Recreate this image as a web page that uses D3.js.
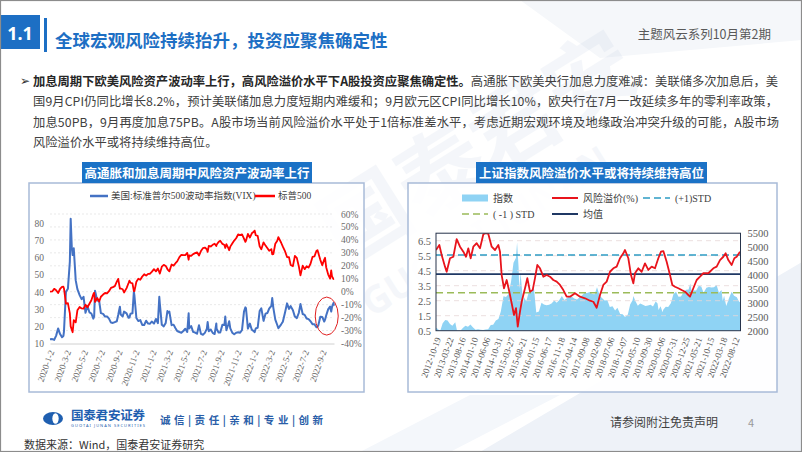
<!DOCTYPE html>
<html>
<head>
<meta charset="utf-8">
<script src="https://cdn.jsdelivr.net/npm/d3@7"></script>
<style>
  body { margin: 0; background: #fff; }
  svg { display: block; font-family: "Noto Sans CJK SC", "Noto Sans", sans-serif; }
</style>
</head>
<body>
<svg id="slide" width="802" height="452"></svg>
<script>
// ---- left chart: VIX vs S&P 500 (change since 2020-01-02, %) ----
const usDates = [
  '2020-01-02','2020-01-10','2020-01-17','2020-01-24','2020-01-31','2020-02-07','2020-02-14','2020-02-19','2020-02-21','2020-02-28',
  '2020-03-06','2020-03-13','2020-03-16','2020-03-20','2020-03-23','2020-03-27','2020-04-03','2020-04-09','2020-04-17','2020-04-24',
  '2020-05-01','2020-05-08','2020-05-15','2020-05-22','2020-05-29','2020-06-05','2020-06-08','2020-06-11','2020-06-19','2020-06-26',
  '2020-07-02','2020-07-10','2020-07-17','2020-07-24','2020-07-31','2020-08-07','2020-08-14','2020-08-21','2020-08-28','2020-09-02',
  '2020-09-08','2020-09-11','2020-09-18','2020-09-23','2020-10-02','2020-10-09','2020-10-12','2020-10-16','2020-10-23','2020-10-28',
  '2020-10-30','2020-11-06','2020-11-13','2020-11-20','2020-11-27','2020-12-04','2020-12-11','2020-12-18','2020-12-24','2020-12-31',
  '2021-01-08','2021-01-15','2021-01-22','2021-01-27','2021-01-29','2021-02-05','2021-02-12','2021-02-19','2021-02-25','2021-02-26',
  '2021-03-04','2021-03-12','2021-03-19','2021-03-26','2021-04-01','2021-04-09','2021-04-16','2021-04-23','2021-04-30','2021-05-07',
  '2021-05-12','2021-05-14','2021-05-21','2021-05-28','2021-06-04','2021-06-11','2021-06-18','2021-06-25','2021-07-02','2021-07-09',
  '2021-07-16','2021-07-19','2021-07-23','2021-07-30','2021-08-06','2021-08-13','2021-08-19','2021-08-20','2021-08-27','2021-09-02',
  '2021-09-10','2021-09-17','2021-09-20','2021-09-24','2021-10-01','2021-10-04','2021-10-08','2021-10-15','2021-10-22','2021-10-29',
  '2021-11-05','2021-11-12','2021-11-19','2021-11-26','2021-12-01','2021-12-03','2021-12-10','2021-12-17','2021-12-24','2021-12-31',
  '2022-01-03','2022-01-07','2022-01-14','2022-01-21','2022-01-27','2022-02-04','2022-02-11','2022-02-18','2022-02-24','2022-03-04',
  '2022-03-07','2022-03-11','2022-03-18','2022-03-25','2022-03-29','2022-04-08','2022-04-14','2022-04-22','2022-04-29','2022-05-06',
  '2022-05-12','2022-05-20','2022-05-27','2022-06-03','2022-06-10','2022-06-16','2022-06-24','2022-07-01','2022-07-08','2022-07-15',
  '2022-07-22','2022-07-29','2022-08-05','2022-08-12','2022-08-16','2022-08-19','2022-08-26','2022-09-02','2022-09-09','2022-09-12',
  '2022-09-16','2022-09-23','2022-09-30','2022-10-04','2022-10-07','2022-10-12','2022-10-14'
];
const vixValues = [
  12.5, 12.6, 12.1, 14.6, 18.8, 15.5, 13.7, 14.4, 17.1, 40.1,
  41.9, 57.8, 82.7, 66.0, 61.6, 65.5, 46.8, 41.7, 38.2, 35.9,
  37.2, 27.9, 31.9, 28.2, 27.5, 24.5, 25.8, 40.8, 35.1, 34.7,
  27.7, 27.3, 25.7, 25.8, 24.5, 22.2, 22.0, 22.5, 23.0, 26.6,
  31.5, 26.9, 25.8, 28.6, 27.6, 25.0, 25.1, 27.4, 27.6, 40.3,
  38.0, 24.9, 23.1, 23.7, 20.8, 20.8, 23.3, 21.6, 21.5, 22.8,
  21.6, 24.3, 21.9, 37.2, 33.1, 20.9, 20.0, 22.0, 28.9, 27.9,
  28.6, 20.7, 21.0, 18.9, 17.3, 16.7, 16.3, 17.3, 18.6, 16.7,
  27.6, 18.8, 20.2, 16.8, 16.4, 15.7, 20.7, 15.6, 15.1, 16.2,
  18.5, 22.5, 17.2, 18.2, 16.2, 15.5, 21.7, 18.6, 16.4, 16.4,
  21.0, 20.8, 25.7, 17.8, 21.2, 23.0, 18.8, 16.3, 15.4, 16.3,
  16.5, 16.3, 17.9, 28.6, 31.1, 30.7, 18.7, 21.6, 18.0, 17.2,
  16.6, 18.8, 19.2, 28.9, 30.5, 23.2, 27.4, 27.8, 30.3, 32.0,
  36.5, 30.8, 23.9, 20.8, 18.9, 21.2, 22.7, 28.2, 33.4, 30.2,
  31.8, 29.4, 25.7, 24.8, 27.8, 33.0, 27.2, 26.7, 24.6, 24.2,
  23.0, 21.3, 21.2, 19.5, 19.7, 20.6, 25.6, 25.5, 22.8, 23.9,
  26.3, 29.9, 31.6, 28.6, 31.4, 33.6, 32.0
];
const spxPct = [
  0.0, 0.2, 2.2, 1.1, -1.0, 2.1, 3.7, 3.9, 2.5, -9.3,
  -8.8, -16.8, -26.8, -29.3, -31.3, -22.0, -23.6, -14.4, -11.8, -12.9,
  -13.1, -10.1, -12.1, -9.3, -6.6, -2.0, -0.8, -7.9, -4.9, -7.6,
  -3.9, -2.2, -1.0, -1.3, 0.4, 2.9, 3.5, 4.3, 7.7, 9.9,
  2.3, 2.5, 1.9, -0.6, 2.8, 6.7, 8.5, 6.9, 6.4, 0.4,
  0.4, 7.7, 10.0, 9.2, 11.7, 13.5, 12.4, 13.8, 13.7, 15.3,
  17.4, 15.7, 17.9, 15.1, 14.0, 19.3, 20.7, 19.9, 17.5, 17.0,
  15.7, 21.0, 20.1, 22.0, 23.4, 26.7, 28.5, 28.3, 28.3, 29.9,
  24.7, 28.1, 27.6, 29.0, 29.8, 30.4, 27.9, 31.4, 33.6, 34.1,
  32.8, 30.7, 35.4, 34.9, 36.2, 37.1, 35.2, 36.3, 38.4, 39.3,
  36.9, 36.1, 33.8, 36.7, 33.7, 32.0, 34.8, 37.2, 39.5, 41.3,
  44.2, 43.7, 44.2, 41.0, 38.5, 39.3, 44.6, 41.8, 45.1, 46.3,
  47.2, 43.6, 43.1, 35.0, 32.8, 38.1, 35.6, 33.5, 31.6, 32.9,
  28.9, 29.0, 37.0, 39.4, 42.2, 37.8, 34.8, 31.1, 26.8, 26.6,
  20.6, 19.7, 27.6, 26.1, 19.7, 12.6, 20.1, 17.4, 19.7, 18.6,
  21.6, 26.8, 27.2, 31.4, 32.1, 29.8, 24.6, 20.4, 24.8, 26.2,
  18.9, 13.4, 10.1, 16.4, 11.7, 9.8, 10.0
];
const usTickLabels = ['2020-1-2','2020-3-2','2020-5-2','2020-7-2','2020-9-2','2020-11-2',
  '2021-1-2','2021-3-2','2021-5-2','2021-7-2','2021-9-2','2021-11-2',
  '2022-1-2','2022-3-2','2022-5-2','2022-7-2','2022-9-2'];
const vixTicks = [10, 20, 30, 40, 50, 60, 70, 80];
const spxTicks = [-40, -30, -20, -10, 0, 10, 20, 30, 40, 50, 60];

// ---- right chart: 上证指数 & 风险溢价 ----
const shDates = [
  '2012-10-12','2012-10-31','2012-11-30','2012-12-31','2013-01-31','2013-02-28','2013-03-29','2013-04-26','2013-05-31','2013-06-25',
  '2013-07-31','2013-08-30','2013-09-30','2013-10-31','2013-11-29','2013-12-31','2014-01-30','2014-02-28','2014-03-31','2014-04-30',
  '2014-05-30','2014-06-30','2014-07-31','2014-08-29','2014-09-30','2014-10-31','2014-11-28','2014-12-31','2015-01-30','2015-02-27',
  '2015-03-31','2015-04-30','2015-05-29','2015-06-12','2015-06-30','2015-07-08','2015-07-24','2015-08-26','2015-08-31','2015-09-30',
  '2015-10-30','2015-11-30','2015-12-31','2016-01-28','2016-02-29','2016-03-31','2016-04-29','2016-05-31','2016-06-30','2016-07-29',
  '2016-08-31','2016-09-30','2016-10-31','2016-11-30','2016-12-30','2017-01-26','2017-02-28','2017-03-31','2017-04-28','2017-05-31',
  '2017-06-30','2017-07-31','2017-08-31','2017-09-29','2017-10-31','2017-11-30','2017-12-29','2018-01-26','2018-02-28','2018-03-30',
  '2018-04-27','2018-05-31','2018-06-29','2018-07-31','2018-08-31','2018-09-28','2018-10-31','2018-11-30','2018-12-28','2019-01-31',
  '2019-02-28','2019-03-29','2019-04-08','2019-04-30','2019-05-31','2019-06-28','2019-07-31','2019-08-30','2019-09-30','2019-10-31',
  '2019-11-29','2019-12-31','2020-01-23','2020-02-03','2020-02-28','2020-03-23','2020-03-31','2020-04-30','2020-05-29','2020-06-30',
  '2020-07-31','2020-08-31','2020-09-30','2020-10-30','2020-11-30','2020-12-31','2021-01-29','2021-02-18','2021-03-09','2021-03-31',
  '2021-04-30','2021-05-31','2021-06-30','2021-07-28','2021-08-31','2021-09-30','2021-10-29','2021-11-30','2021-12-31','2022-01-28',
  '2022-02-28','2022-03-15','2022-03-31','2022-04-26','2022-05-31','2022-06-30','2022-07-29','2022-08-31','2022-09-30','2022-10-14'
];
const shIndex = [
  2105, 2069, 1980, 2269, 2385, 2366, 2237, 2178, 2301, 1950,
  1994, 2098, 2175, 2141, 2220, 2116, 2033, 2056, 2033, 2026,
  2039, 2048, 2201, 2217, 2364, 2420, 2683, 3235, 3210, 3310,
  3748, 4441, 4612, 5166, 4277, 3507, 4070, 2927, 3206, 3053,
  3383, 3445, 3539, 2656, 2688, 3004, 2938, 2917, 2930, 2979,
  3085, 3005, 3100, 3250, 3104, 3159, 3242, 3223, 3155, 3117,
  3192, 3273, 3361, 3349, 3393, 3317, 3307, 3558, 3259, 3169,
  3082, 3095, 2847, 2876, 2725, 2821, 2603, 2588, 2494, 2585,
  2941, 3091, 3247, 3078, 2899, 2979, 2933, 2886, 2905, 2929,
  2872, 3050, 2977, 2746, 2880, 2660, 2750, 2860, 2852, 2985,
  3310, 3396, 3218, 3225, 3392, 3473, 3483, 3696, 3360, 3442,
  3447, 3615, 3591, 3362, 3544, 3568, 3547, 3564, 3640, 3361,
  3462, 3064, 3252, 2887, 3186, 3399, 3253, 3202, 3024, 3071
];
const rpDates = [
  '2012-10-12','2012-11-21','2012-12-19','2013-01-28','2013-02-17','2013-03-29','2013-05-08','2013-06-17','2013-07-27','2013-09-05',
  '2013-10-07','2013-11-04','2013-12-02','2014-01-03','2014-02-12','2014-03-24','2014-05-03','2014-06-02','2014-07-02','2014-08-11',
  '2014-09-20','2014-10-30','2014-11-19','2014-12-09','2015-01-06','2015-02-07','2015-03-11','2015-04-08','2015-05-06','2015-05-30',
  '2015-06-20','2015-07-17','2015-08-06','2015-09-15','2015-10-13','2015-11-14','2015-12-16','2016-01-13','2016-02-10','2016-03-13',
  '2016-04-22','2016-06-01','2016-07-11','2016-08-20','2016-09-29','2016-11-08','2016-12-18','2017-01-27','2017-03-08','2017-05-07',
  '2017-07-06','2017-09-04','2017-11-03','2017-12-13','2018-01-22','2018-03-03','2018-04-12','2018-05-22','2018-07-01','2018-08-10',
  '2018-09-19','2018-10-29','2018-12-08','2018-12-28','2019-02-06','2019-03-10','2019-04-07','2019-04-27','2019-06-06','2019-07-16',
  '2019-08-25','2019-10-04','2019-11-13','2019-12-23','2020-02-01','2020-03-04','2020-04-01','2020-05-11','2020-06-20','2020-07-18',
  '2020-08-19','2020-09-28','2020-11-07','2020-12-17','2021-01-26','2021-02-15','2021-03-27','2021-05-06','2021-06-15','2021-07-25',
  '2021-09-23','2021-11-22','2022-01-01','2022-02-10','2022-03-22','2022-04-19','2022-05-21','2022-06-30','2022-08-01','2022-08-29',
  '2022-10-08'
];
const rpValues = [
  5.88, 6.21, 5.55, 4.77, 4.43, 5.33, 5.43, 6.61, 6.10, 5.77,
  5.43, 5.99, 5.33, 6.10, 6.33, 5.99, 6.93, 7.00, 6.95, 6.10,
  5.88, 6.21, 5.77, 4.21, 3.33, 3.88, 3.10, 2.33, 1.55, 2.00,
  0.77, 1.77, 2.43, 3.33, 4.00, 3.10, 3.21, 4.00, 4.88, 4.66,
  4.10, 4.21, 4.10, 3.88, 3.77, 3.55, 3.21, 2.77, 2.77, 3.00,
  2.77, 2.66, 2.50, 2.43, 2.03, 2.88, 3.55, 3.77, 4.43, 4.66,
  4.77, 5.33, 5.66, 5.88, 5.33, 4.21, 3.66, 4.33, 4.66, 4.43,
  4.99, 4.55, 4.77, 4.66, 5.33, 5.77, 5.81, 5.10, 4.21, 3.55,
  3.43, 3.33, 3.21, 3.10, 2.88, 2.77, 3.33, 3.88, 4.10, 4.33,
  4.33, 4.66, 4.77, 5.21, 5.43, 5.66, 5.21, 4.88, 5.33, 5.43,
  5.77
];
const rpMean = 4.27;
const rpPlusStd = 5.55;
const rpMinusStd = 3.03;
const cnTickLabels = ['2012-10-19','2013-03-22','2013-08-16','2014-01-10','2014-06-06','2014-10-31','2015-03-27',
  '2015-08-21','2016-01-15','2016-06-17','2016-11-18','2017-04-14','2017-09-08','2018-02-09','2018-07-06',
  '2018-12-07','2019-05-10','2019-09-30','2020-03-06','2020-07-31','2020-12-25','2021-05-21','2021-10-15',
  '2022-03-18','2022-08-12'];
const rpTicks = [0.5, 1.5, 2.5, 3.5, 4.5, 5.5, 6.5];
const idxTicks = [2000, 2500, 3000, 3500, 4000, 4500, 5000, 5500];

const parse = d3.timeParse('%Y-%m-%d');
const svg = d3.select('#slide');
const blue = '#1d6fc4';
const serif = '"Liberation Serif", "Noto Sans CJK SC", serif';

// ---------- page background ----------
svg.append('rect').attr('width', 802).attr('height', 452).attr('fill', '#ffffff');
svg.append('path').attr('d', 'M480,452 L802,262 L802,452 Z').attr('fill', '#eef2f8');
svg.append('path').attr('d', 'M360,452 L470,395 L560,395 L450,452 Z').attr('fill', '#f4f7fb');
svg.append('path').attr('d', 'M520,0 L802,0 L802,40 L600,58 Z').attr('fill', '#f5f7fa');

// faint watermark
const wm = svg.append('g').attr('opacity', 0.07).attr('fill', '#6f8fbf');
wm.append('text').attr('transform', 'translate(345,268) rotate(-32)')
  .attr('font-size', 88).attr('font-weight', 'bold').text('国泰君安');
wm.append('text').attr('transform', 'translate(372,318) rotate(-32)')
  .attr('font-size', 38).attr('font-family', 'Noto Sans').attr('font-weight', 'bold').text('GUOTAI JUNAN');

// ---------- header ----------
svg.append('rect').attr('x', 0).attr('y', 15).attr('width', 40).attr('height', 34).attr('fill', blue);
svg.append('text').attr('x', 20).attr('y', 32.5).attr('text-anchor', 'middle').attr('dominant-baseline', 'central')
  .attr('fill', '#fff').attr('font-size', 18).attr('font-weight', 'bold').attr('font-family', 'Noto Sans').text('1.1');
svg.append('rect').attr('x', 44).attr('y', 18).attr('width', 3).attr('height', 34).attr('fill', blue);
svg.append('text').attr('x', 55).attr('y', 39).attr('dominant-baseline', 'central')
  .attr('fill', blue).attr('font-size', 17.5).attr('font-weight', 'bold').text('全球宏观风险持续抬升，投资应聚焦确定性');
svg.append('text').attr('x', 771).attr('y', 33).attr('text-anchor', 'end').attr('dominant-baseline', 'central')
  .attr('fill', '#595959').attr('font-size', 12.5).text('主题风云系列10月第2期');

// ---------- paragraph ----------
svg.append('text').attr('x', 20).attr('y', 80.5).attr('dominant-baseline', 'central')
  .attr('font-family', 'DejaVu Sans').attr('font-size', 12).attr('fill', '#333').text('➢');
const paraLines = [
  { bold: '加息周期下欧美风险资产波动率上行，高风险溢价水平下A股投资应聚焦确定性。', text: '高通胀下欧美央行加息力度难减：美联储多次加息后，美', fit: 745 },
  { bold: '', text: '国9月CPI仍同比增长8.2%，预计美联储加息力度短期内难缓和；9月欧元区CPI同比增长10%，欧央行在7月一改延续多年的零利率政策，', fit: 745 },
  { bold: '', text: '加息50PB，9月再度加息75PB。A股市场当前风险溢价水平处于1倍标准差水平，考虑近期宏观环境及地缘政治冲突升级的可能，A股市场', fit: 746 },
  { bold: '', text: '风险溢价水平或将持续维持高位。', fit: null }
];
paraLines.forEach((ln, i) => {
  const t = svg.append('text').attr('x', 33).attr('y', 80.5 + i * 20.5).attr('dominant-baseline', 'central')
    .attr('font-size', 12.3).attr('fill', '#404040');
  if (ln.fit) t.attr('textLength', ln.fit).attr('lengthAdjust', 'spacing');
  if (ln.bold) t.append('tspan').attr('font-weight', 'bold').attr('fill', '#262626').text(ln.bold);
  t.append('tspan').text(ln.text);
});

// ---------- chart frames & titles ----------
function frame(x, y, w, h) {
  svg.append('rect').attr('x', x).attr('y', y).attr('width', w).attr('height', h)
    .attr('fill', 'rgba(255,255,255,0.9)').attr('stroke', '#a8bbd8').attr('stroke-width', 1.5);
}
function titleBox(x, w, label) {
  svg.append('rect').attr('x', x).attr('y', 162).attr('width', w).attr('height', 21).attr('fill', '#1b72c6');
  svg.append('text').attr('x', x + w / 2).attr('y', 172.5).attr('text-anchor', 'middle').attr('dominant-baseline', 'central')
    .attr('fill', '#fff').attr('font-size', 12.5).attr('font-weight', 'bold').text(label);
}
frame(29, 183, 335, 209);
frame(408, 183, 369, 209);
titleBox(82, 230, '高通胀和加息周期中风险资产波动率上行');
titleBox(476, 231, '上证指数风险溢价水平或将持续维持高位');

// ---------- left chart ----------
const usRows = usDates.map((d, i) => ({ date: parse(d), vix: vixValues[i], spx: spxPct[i] }));
const xUS = d3.scaleTime().domain([parse('2020-01-02'), parse('2022-10-14')]).range([50, 334]);
const yVix = d3.scaleLinear().domain([10, 80]).range([343.5, 223.5]);
const ySpx = d3.scaleLinear().domain([-40, 60]).range([343.5, 214]);

const lc = svg.append('g');
lc.append('g').selectAll('line').data(spxTicks.slice(1)).join('line')
  .attr('x1', 50).attr('x2', 334).attr('y1', d => ySpx(d)).attr('y2', d => ySpx(d))
  .attr('stroke', '#e3e3e3').attr('stroke-width', 0.8).attr('stroke-dasharray', '2,2');

lc.append('g').attr('transform', 'translate(50,0)')
  .call(d3.axisLeft(yVix).tickValues(vixTicks).tickSize(0).tickPadding(6))
  .call(g => g.select('.domain').remove())
  .call(g => g.selectAll('text').attr('fill', '#6b6b6b').attr('font-size', 9.5).attr('font-family', serif));
lc.append('g').attr('transform', 'translate(334,0)')
  .call(d3.axisRight(ySpx).tickValues(spxTicks).tickFormat(d => d + '%').tickSize(0).tickPadding(7))
  .call(g => g.select('.domain').remove())
  .call(g => g.selectAll('text').attr('fill', '#6b6b6b').attr('font-size', 9.5).attr('font-family', serif));
lc.append('g').attr('transform', 'translate(0,343.5)')
  .call(d3.axisBottom(xUS).tickValues(usTickLabels.map(parse)).tickFormat((d, i) => usTickLabels[i]).tickSize(0).tickSizeOuter(0))
  .call(g => g.select('.domain').attr('stroke', '#d0d0d0'))
  .call(g => g.selectAll('text').attr('x', 0).attr('y', 0).attr('dy', '0.35em')
    .attr('transform', 'translate(1,7) rotate(-70)').attr('text-anchor', 'end')
    .attr('fill', '#6b6b6b').attr('font-size', 9).attr('font-family', serif));

lc.append('path').datum(usRows)
  .attr('d', d3.line().x(d => xUS(d.date)).y(d => yVix(d.vix)))
  .attr('fill', 'none').attr('stroke', '#4472c4').attr('stroke-width', 2).attr('stroke-linejoin', 'round');
lc.append('path').datum(usRows)
  .attr('d', d3.line().x(d => xUS(d.date)).y(d => ySpx(d.spx)))
  .attr('fill', 'none').attr('stroke', '#ff0000').attr('stroke-width', 1.8).attr('stroke-linejoin', 'round');

// highlight circle around the latest VIX rebound
lc.append('ellipse').attr('cx', xUS(parse('2022-09-18'))).attr('cy', yVix(26)).attr('rx', 11.5).attr('ry', 19)
  .attr('fill', 'none').attr('stroke', '#e02020').attr('stroke-width', 1);

// legend
const lg = lc.append('g');
lg.append('line').attr('x1', 90).attr('x2', 108).attr('y1', 196).attr('y2', 196).attr('stroke', '#4472c4').attr('stroke-width', 2.5);
lg.append('text').attr('x', 111).attr('y', 196).attr('dominant-baseline', 'central').attr('font-size', 9.5)
  .attr('font-family', serif).attr('fill', '#404040').text('美国:标准普尔500波动率指数(VIX)');
lg.append('line').attr('x1', 255).attr('x2', 275).attr('y1', 196).attr('y2', 196).attr('stroke', '#ff0000').attr('stroke-width', 2.5);
lg.append('text').attr('x', 278).attr('y', 196).attr('dominant-baseline', 'central').attr('font-size', 9.5)
  .attr('font-family', serif).attr('fill', '#404040').text('标普500');

// ---------- right chart ----------
const shRows = shDates.map((d, i) => ({ date: parse(d), v: shIndex[i] }));
const rpRows = rpDates.map((d, i) => ({ date: parse(d), v: rpValues[i] }));
const px0 = 436, px1 = 740.5, pyTop = 233.2, pyBot = 330.7;
const xCN = d3.scaleTime().domain([parse('2012-10-12'), parse('2022-10-14')]).range([px0, px1]);
const yRP = d3.scaleLinear().domain([0.5, 7]).range([pyBot, pyTop]);
const yIdx = d3.scaleLinear().domain([2000, 5500]).range([pyBot, pyTop]);

const rc = svg.append('g');
rc.append('clipPath').attr('id', 'cnclip').append('rect')
  .attr('x', px0).attr('y', pyTop).attr('width', px1 - px0).attr('height', pyBot - pyTop);
rc.append('rect').attr('x', px0).attr('y', pyTop).attr('width', px1 - px0).attr('height', pyBot - pyTop).attr('fill', '#fff');

const plot = rc.append('g').attr('clip-path', 'url(#cnclip)');
plot.append('path').datum(shRows)
  .attr('d', d3.area().x(d => xCN(d.date)).y0(yIdx(2000)).y1(d => yIdx(d.v)))
  .attr('fill', '#8fd3f4');
plot.append('g').selectAll('line').data(rpTicks.slice(1)).join('line')
  .attr('x1', px0).attr('x2', px1).attr('y1', d => yRP(d)).attr('y2', d => yRP(d))
  .attr('stroke', '#e6d6d6').attr('stroke-width', 0.8).attr('stroke-dasharray', '5,4');
const refLine = (v, color, dash) => plot.append('line').attr('x1', px0).attr('x2', px1)
  .attr('y1', yRP(v)).attr('y2', yRP(v)).attr('stroke', color).attr('stroke-width', 1.6).attr('stroke-dasharray', dash);
refLine(rpPlusStd, '#2e9cc3', '7,4');
refLine(rpMinusStd, '#9bbb59', '7,4');
refLine(rpMean, '#1f3864', null);
plot.append('path').datum(rpRows)
  .attr('d', d3.line().x(d => xCN(d.date)).y(d => yRP(d.v)))
  .attr('fill', 'none').attr('stroke', '#e8141c').attr('stroke-width', 1.8).attr('stroke-linejoin', 'round');

rc.append('rect').attr('x', px0).attr('y', pyTop).attr('width', px1 - px0).attr('height', pyBot - pyTop)
  .attr('fill', 'none').attr('stroke', '#26324a').attr('stroke-width', 1);

rc.append('g').attr('transform', `translate(${px0},0)`)
  .call(d3.axisLeft(yRP).tickValues(rpTicks).tickFormat(d3.format('.1f')).tickSize(0).tickPadding(5))
  .call(g => g.select('.domain').remove())
  .call(g => g.selectAll('text').attr('fill', '#595959').attr('font-size', 10.5).attr('font-family', serif));
rc.append('g').attr('transform', `translate(${px1},0)`)
  .call(d3.axisRight(yIdx).tickValues(idxTicks).tickFormat(d3.format('d')).tickSize(0).tickPadding(7))
  .call(g => g.select('.domain').remove())
  .call(g => g.selectAll('text').attr('fill', '#595959').attr('font-size', 10.5).attr('font-family', serif));
rc.append('g').attr('transform', `translate(0,${pyBot})`)
  .call(d3.axisBottom(xCN).tickValues(cnTickLabels.map(parse)).tickFormat(d3.timeFormat('%Y-%m-%d')).tickSize(0).tickSizeOuter(0))
  .call(g => g.select('.domain').remove())
  .call(g => g.selectAll('text').attr('x', 0).attr('y', 0).attr('dy', '0.35em')
    .attr('transform', 'translate(1,7) rotate(-70)').attr('text-anchor', 'end')
    .attr('fill', '#595959').attr('font-size', 9).attr('font-family', serif));

// legend
const rl = rc.append('g').attr('font-family', serif).attr('font-size', 10).attr('fill', '#404040');
rl.append('rect').attr('x', 462).attr('y', 194.5).attr('width', 26).attr('height', 7).attr('fill', '#8fd3f4');
rl.append('text').attr('x', 493).attr('y', 198).attr('dominant-baseline', 'central').text('指数');
rl.append('line').attr('x1', 552).attr('x2', 578).attr('y1', 198).attr('y2', 198).attr('stroke', '#e8141c').attr('stroke-width', 2);
rl.append('text').attr('x', 583).attr('y', 198).attr('dominant-baseline', 'central').text('风险溢价(%)');
rl.append('line').attr('x1', 643).attr('x2', 670).attr('y1', 198).attr('y2', 198).attr('stroke', '#2e9cc3').attr('stroke-width', 1.6).attr('stroke-dasharray', '7,4');
rl.append('text').attr('x', 675).attr('y', 198).attr('dominant-baseline', 'central').text('(+1)STD');
rl.append('line').attr('x1', 462).attr('x2', 488).attr('y1', 214).attr('y2', 214).attr('stroke', '#9bbb59').attr('stroke-width', 1.6).attr('stroke-dasharray', '7,4');
rl.append('text').attr('x', 493).attr('y', 214).attr('dominant-baseline', 'central').text('( -1 ) STD');
rl.append('line').attr('x1', 552).attr('x2', 578).attr('y1', 214).attr('y2', 214).attr('stroke', '#1f3864').attr('stroke-width', 2);
rl.append('text').attr('x', 583).attr('y', 214).attr('dominant-baseline', 'central').text('均值');

// ---------- footer ----------
const ft = svg.append('g');
ft.append('ellipse').attr('cx', 53).attr('cy', 418.5).attr('rx', 10).attr('ry', 6.5).attr('fill', '#1f5fb0');
ft.append('ellipse').attr('cx', 55.5).attr('cy', 418.5).attr('rx', 3.2).attr('ry', 5.2).attr('fill', '#fff');
ft.append('text').attr('x', 71).attr('y', 414.5).attr('dominant-baseline', 'central').attr('font-size', 12.5)
  .attr('font-weight', 'bold').attr('fill', '#1f5fb0').attr('textLength', 74).text('国泰君安证券');
ft.append('text').attr('x', 71).attr('y', 425.5).attr('dominant-baseline', 'central').attr('font-size', 4)
  .attr('font-family', 'Noto Sans').attr('fill', '#1f5fb0').attr('textLength', 74).text('GUOTAI JUNAN SECURITIES');
ft.append('text').attr('x', 160).attr('y', 419).attr('dominant-baseline', 'central').attr('font-size', 10.5)
  .attr('font-weight', 'bold').attr('fill', '#2a5ea8').attr('textLength', 163).attr('lengthAdjust', 'spacing')
  .text('诚信|责任|亲和|专业|创新');
ft.append('text').attr('x', 24).attr('y', 444).attr('dominant-baseline', 'central').attr('font-size', 11)
  .attr('fill', '#333').text('数据来源：Wind，国泰君安证券研究');
ft.append('text').attr('x', 610).attr('y', 421.5).attr('dominant-baseline', 'central').attr('font-size', 12)
  .attr('fill', '#404040').text('请参阅附注免责声明');
ft.append('text').attr('x', 748).attr('y', 421.5).attr('dominant-baseline', 'central').attr('font-size', 11)
  .attr('fill', '#999').text('4');

// slide border
svg.append('rect').attr('x', 0.5).attr('y', 0.5).attr('width', 801).attr('height', 451)
  .attr('fill', 'none').attr('stroke', '#8c8c8c').attr('stroke-width', 1.2);
</script>
</body>
</html>
